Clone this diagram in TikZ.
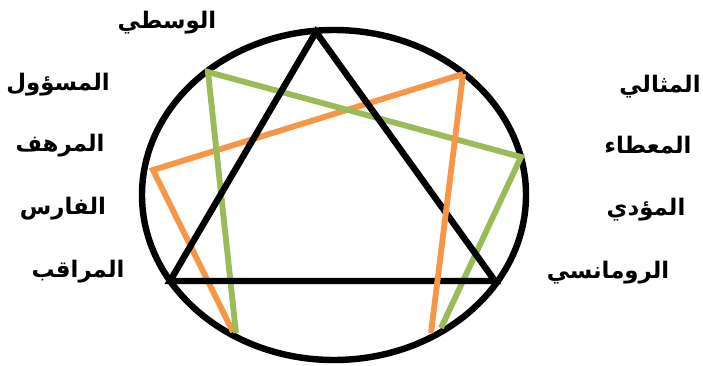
\documentclass[tikz,border=0pt]{standalone}
\usepackage{fontspec}
\usetikzlibrary{shapes.geometric}
\newfontfamily\arabicfont[Script=Arabic]{DejaVu Sans}
\TeXXeTstate=1
\definecolor{wingorange}{HTML}{F79646}
\definecolor{winggreen}{HTML}{9BBB59}
\tikzset{
      typelabel/.style={
        font=\arabicfont\bfseries\fontsize{19.5}{22}\selectfont,
        inner sep=0pt
      },
      ringline/.style={
        draw=black,
        line width=5.5pt
      },
      orangeline/.style={
        draw=wingorange,
        line width=5pt
      },
      greenline/.style={
        draw=winggreen,
        line width=5pt
      }
    }
\begin{document}
\begin{tikzpicture}[x=0.03cm,y=-0.03cm]
    \useasboundingbox[fill=white] (0,0) rectangle (703,366);
    % points of the figure
    \coordinate (top) at (316,32);
    \coordinate (bl) at (170,281);
    \coordinate (br) at (495,281);
    \coordinate (g1) at (236,333);
    \coordinate (g2) at (208,72);
    \coordinate (g3) at (521,157);
    \coordinate (g4) at (441,328);
    \coordinate (o1) at (233,332);
    \coordinate (o2) at (153,170);
    \coordinate (o3) at (463,74);
    \coordinate (o4) at (431,333);
    \node[ringline, ellipse, inner sep=0pt, minimum width=11.52cm, minimum height=9.9cm] (ring) at (334,195) {};
    \draw[orangeline] (o1) -- (o2) -- (o3);
    \draw[greenline] (g1) -- (g2) -- (g3) -- (g4);
    \draw[ringline, line join=miter] (top) -- (bl) -- (br) -- cycle;
    \draw[orangeline] (o3) -- (o4);
    % names round the ring
    \node[typelabel] (wasati) at (167,23) {\beginR الوسطي\endR};
    \node[typelabel] (masool) at (58,85) {\beginR المسؤول\endR};
    \node[typelabel] (murhaf) at (60,146) {\beginR المرهف\endR};
    \node[typelabel] (faris) at (63,209) {\beginR الفارس\endR};
    \node[typelabel] (muraqib) at (78,272) {\beginR المراقب\endR};
    \node[typelabel] (mithali) at (660,87) {\beginR المثالي\endR};
    \node[typelabel] (muti) at (648,145) {\beginR المعطاء\endR};
    \node[typelabel] (muaddi) at (646,210) {\beginR المؤدي\endR};
    \node[typelabel] (romansi) at (608,273) {\beginR الرومانسي\endR};
    \end{tikzpicture}
\end{document}
